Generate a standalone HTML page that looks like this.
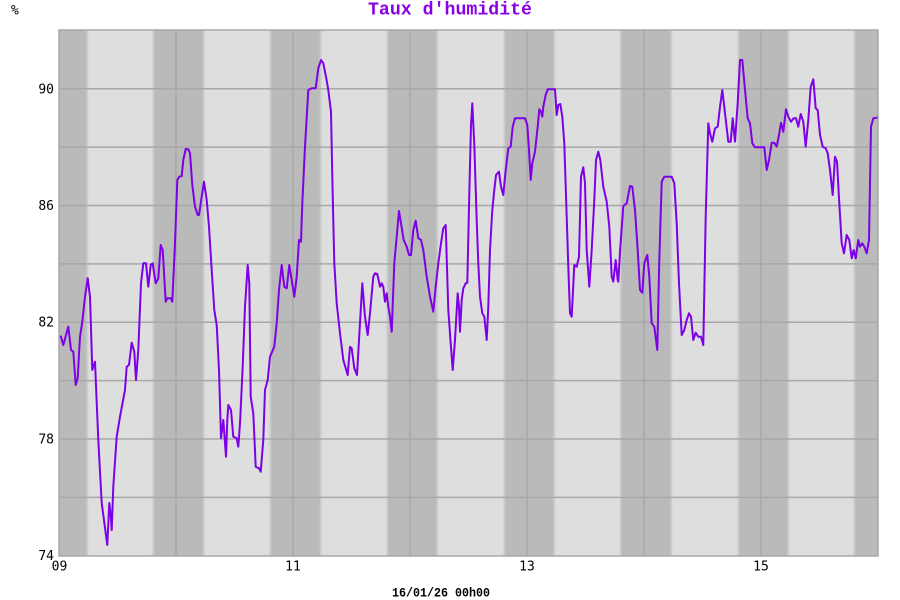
<!DOCTYPE html>
<html>
<head>
<meta charset="utf-8">
<style>
html,body{margin:0;padding:0;background:#fff;}
svg{display:block;}
</style>
</head>
<body>
<svg width="900" height="600" viewBox="0 0 900 600" xmlns="http://www.w3.org/2000/svg">
<defs>
<linearGradient id="bands" gradientUnits="userSpaceOnUse" x1="0" y1="0" x2="900" y2="0">
<stop offset="0" stop-color="#bababa"/>
<stop offset="0.09500" stop-color="#bababa"/>
<stop offset="0.09889" stop-color="#dedede"/>
<stop offset="0.16833" stop-color="#dedede"/>
<stop offset="0.17222" stop-color="#bababa"/>
<stop offset="0.22444" stop-color="#bababa"/>
<stop offset="0.22833" stop-color="#dedede"/>
<stop offset="0.29833" stop-color="#dedede"/>
<stop offset="0.30222" stop-color="#bababa"/>
<stop offset="0.35444" stop-color="#bababa"/>
<stop offset="0.35833" stop-color="#dedede"/>
<stop offset="0.42833" stop-color="#dedede"/>
<stop offset="0.43222" stop-color="#bababa"/>
<stop offset="0.48389" stop-color="#bababa"/>
<stop offset="0.48778" stop-color="#dedede"/>
<stop offset="0.55833" stop-color="#dedede"/>
<stop offset="0.56222" stop-color="#bababa"/>
<stop offset="0.61389" stop-color="#bababa"/>
<stop offset="0.61778" stop-color="#dedede"/>
<stop offset="0.68778" stop-color="#dedede"/>
<stop offset="0.69167" stop-color="#bababa"/>
<stop offset="0.74389" stop-color="#bababa"/>
<stop offset="0.74778" stop-color="#dedede"/>
<stop offset="0.81833" stop-color="#dedede"/>
<stop offset="0.82222" stop-color="#bababa"/>
<stop offset="0.87389" stop-color="#bababa"/>
<stop offset="0.87778" stop-color="#dedede"/>
<stop offset="0.94722" stop-color="#dedede"/>
<stop offset="0.95111" stop-color="#bababa"/>
<stop offset="1" stop-color="#bababa"/>
</linearGradient>
<clipPath id="plot"><rect x="59" y="30" width="819" height="526"/></clipPath>
</defs>

<rect x="59" y="30" width="819" height="526" fill="url(#bands)"/>

<g stroke="#a8a8a8" stroke-width="1.5" fill="none">
<line x1="59" y1="497.4" x2="878" y2="497.4"/>
<line x1="59" y1="439" x2="878" y2="439"/>
<line x1="59" y1="380.6" x2="878" y2="380.6"/>
<line x1="59" y1="322.2" x2="878" y2="322.2"/>
<line x1="59" y1="263.9" x2="878" y2="263.9"/>
<line x1="59" y1="205.5" x2="878" y2="205.5"/>
<line x1="59" y1="147.1" x2="878" y2="147.1"/>
<line x1="59" y1="88.8" x2="878" y2="88.8"/>
<line x1="176" y1="30" x2="176" y2="556"/>
<line x1="293" y1="30" x2="293" y2="556"/>
<line x1="410" y1="30" x2="410" y2="556"/>
<line x1="527" y1="30" x2="527" y2="556"/>
<line x1="644" y1="30" x2="644" y2="556"/>
<line x1="761" y1="30" x2="761" y2="556"/>
<rect x="59" y="30" width="819" height="526"/>
</g>

<g clip-path="url(#plot)">
<polyline fill="none" stroke="#7d00e6" stroke-width="2" stroke-linejoin="round" points="
60,336 61,336.7 63.3,345 68.3,326.7 71,350 73.3,351.7 75.7,385 77.7,378 80,336.7 82.3,321.7 85,296.7 87.7,278.3 90,296.7 92.3,370 95,361.7 98.3,440 101.7,503 107.3,545 109.3,503 110.7,515 111.7,530 113.3,486.7 116.7,436.7 120,416.7 125,390 126.7,366.7 129,365 131.7,342.7 134.3,351.7 136,380 138.3,350 141,283.3 143.3,263.3 146,263.3 148.3,286.7 150.7,265 152.7,263.3 155.7,283.3 158.3,278.3 160.7,245 162.7,250 165.7,301.7 167.3,298.3 170.7,298.3 172.3,301.7 175,243.3 177.3,180 179.3,176.7 181.7,176 183.3,160 185.7,149 188.3,149.3 190,153.3 192.3,185 195,206.7 197.7,215
199,215 201.7,196.7 204,181.7 206.7,200 209,226.7 211.7,270 214.3,310 216.7,325 219,370 221,438.3 223.3,420 224.3,433.3 226,456.7 227.3,420 228.3,405 231,410 233.3,436.7 236.7,438.3 238.3,446.7 240,423.3 242.7,366.7 245,306.7 247.7,265 249.3,283.3 250.7,396.7 253.3,413.3 255.7,466.7 259,468.3 260.7,471.7 263.3,440 265,390 267.7,380 270,356.7 274.3,346.7 276.7,323.3 279,290 281.7,265 284.3,286.7 286.7,288.3 289.3,265 291.7,280 294.3,296.7 296.7,276.7 299,240 301,241.7 302.3,203.3 305,146.7 308.3,90 311.7,88.3 315.7,88.3 318.3,68.3 321,60 323.3,63.3 326,76.7 328.3,90 331,111.7 332.3,176.7 334.3,263.3 336.7,303.3
340,333.3 343.3,360 347.7,375 350,346.7 351.7,348.3 354.3,368.3 357,375 359,340 362.3,283.3 365,316.7 367.7,335 370,313.3 373.3,276.7 375,273.3 377.3,274 380,286.7 381.7,283.3 383.3,286.7 385,301.7 386.7,293.3 388.3,306.7 390,316.7 391.7,331.7 394.3,263.3 396.7,236.7 399,211 401,223.3 403.7,240 406.7,246.7 409,255 411,255 413.3,230 415.7,220.7 418.3,238.3 421,240 423.3,250 426.7,276.7 430,296.7 433.3,311.7 435.7,286.7 438.3,263.3 441,243.3 443.3,228.3 445.7,225 448.3,310 450.7,343.3 452.7,370 455,340 457.7,293.3 459,306.7 460,331.7 461.7,300 463.3,288.3 465.7,283.3 467.3,282.7 469.3,193.3 471,125 472.3,103.3 474.3,145 476.7,220
478.3,263.3 480,296.7 482.3,313.3 484.3,316.7 486.7,340 488.3,306.7 490,250 492.3,210 494.3,190 496,175 499,171.7 501,186.7 503.3,195 505.7,170 508.3,148.3 510.7,146.7 512.7,126.7 515,118.3 525,118.3 527.3,125 529,150 530.7,180 532.3,163.3 535,151.7 537.7,126.7 539.3,109.3 541,111.7 542.3,116.7 543.3,106.7 545.7,95 547.7,89.3 555,89.3 556.7,115 558.3,105 560.3,104 562.3,116.7 564.3,143.3 566.7,216.7 568.3,266.7 570,313.3 571.7,316.7 574.3,265 576.7,266.7 579,256.7 581,176.7 583.3,167.3 585,183.3 586.7,250 589.3,286.7 591.7,250 594.3,200 596,160 598.3,151.7 600.3,160 603.3,186.7 606.7,201.7 609.3,226.7 611.7,276.7 613.3,281.7 615.7,260 617.7,280 618.3,281.7 620,251.7
623.3,206 626.7,203.3 630,186 632.3,186.7 635,210 637.7,250 640,290 642.3,292.7 644.3,263.3 647.3,255 649.3,276.7 651.7,323.3 654.3,326.7 657.3,350 659.3,260 661.7,181.7 664.3,176.7 671.7,176.7 674.3,183.3 676.7,223.3 679,283.3 681.7,335 684.3,330 686.7,320 689,313.3 691,316.7 693.3,340 695.7,332.7 698.3,336.7 701,336.7 703.3,345 705.7,216.7 708.3,123.3 710,133.3 712.3,141.7 715,128.3 717.7,126.7 720,106.7 722.3,90 725,113.3 728.3,141.7 730.7,141.7 732.7,118.3 735,141.7 737.7,103.3 740,60 742.3,60 745,90 747.7,118.3 750,123.3 752.3,143.3 755,147.3 764.3,147.3
766.7,170 769,160 771.7,142.7 774.3,142.7 776.7,146.7 779,135 781,122.7 783.3,131.7 786,109.3 788.3,116.7 791,121.7 793.7,118.3 796,118.3 798.3,126.7 800.7,114 803.3,121.7 805.7,146.7 808.3,120 810.7,86.7 813.3,79.3 815.7,108.3 817.7,110 820,135 822.7,146.7 825.7,148.3 827.7,153.3 830,170 832.7,195 835,156.7 837,161.7 839.3,203.3 841.7,243.3 844,253.3 846.7,235 849.3,240 851.7,258.3 853.7,250 855.7,258.3 858.3,240 860,246.7 862.3,243.3 864.3,246.7 866.7,253.3 869,240 871,126.7 873.3,118.3 876.7,117.7 877.5,117.7"/>
</g>

<g font-family="'DejaVu Sans Mono', 'Liberation Mono', monospace" font-size="13" fill="#000">
<text x="54" y="93.5" text-anchor="end">90</text>
<text x="54" y="210" text-anchor="end">86</text>
<text x="54" y="326.7" text-anchor="end">82</text>
<text x="54" y="443.5" text-anchor="end">78</text>
<text x="54" y="560" text-anchor="end">74</text>
<text x="59.5" y="570.5" text-anchor="middle">09</text>
<text x="293" y="570.5" text-anchor="middle">11</text>
<text x="527" y="570.5" text-anchor="middle">13</text>
<text x="761" y="570.5" text-anchor="middle">15</text>
<text x="11" y="14.5">%</text>
</g>

<text x="368" y="14.5" font-family="'Liberation Mono', monospace" font-weight="bold" font-size="18" fill="#8a00e6" textLength="164" lengthAdjust="spacingAndGlyphs">Taux d'humidité</text>

<text x="392" y="596.5" font-family="'Liberation Mono', monospace" font-weight="bold" font-size="13" fill="#000" textLength="98" lengthAdjust="spacingAndGlyphs">16/01/26 00h00</text>
</svg>
</body>
</html>
